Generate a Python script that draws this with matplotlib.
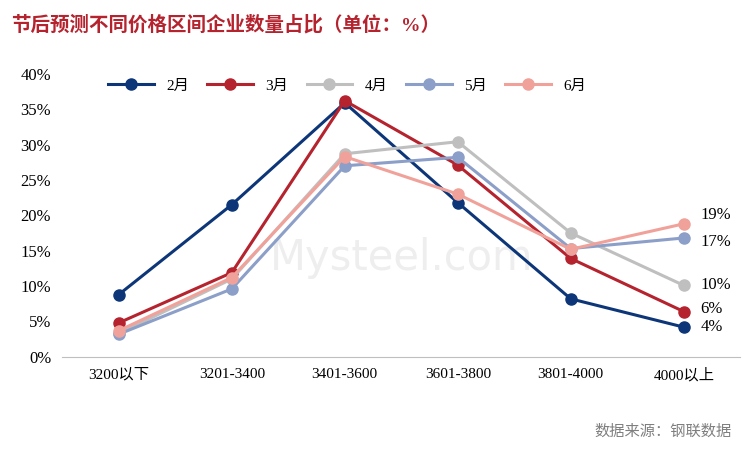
import matplotlib.pyplot as plt

plt.rcParams['font.family'] = ['Liberation Serif', 'Noto Sans CJK SC']

categories = ['3200以下', '3201-3400', '3401-3600', '3601-3800', '3801-4000', '4000以上']
months = ['2月', '3月', '4月', '5月', '6月']
feb = [8.8, 21.5, 35.9, 21.8, 8.2, 4.2]
mar = [4.8, 11.9, 36.2, 27.1, 13.9, 6.4]
apr = [3.3, 11.0, 28.7, 30.4, 17.5, 10.1]
may = [3.2, 9.6, 27.0, 28.2, 15.3, 16.8]
jun = [3.7, 11.2, 28.3, 23.0, 15.2, 18.8]
end_labels = ['4%', '6%', '10%', '17%', '19%']
label_dy = [0, 2, 0, -3, 6]
colors = ['#0d3679', '#b5232e', '#bfbfbf', '#8c9fc8', '#f0a29a']

fig = plt.figure(figsize=(7.5, 4.5), dpi=100)
ax = fig.add_axes([0.083, 0.207, 0.904, 0.629])
x = range(len(categories))
for name, vals, c in zip(months, [feb, mar, apr, may, jun], colors):
    ax.plot(x, vals, color=c, lw=2.2, marker='o', ms=8, label=name)

ends = [feb[-1], mar[-1], apr[-1], may[-1], jun[-1]]
for v, t, dy in zip(ends, end_labels, label_dy):
    ax.annotate(t, (5, v), xytext=(12, dy), textcoords='offset points',
                va='center', fontsize=12)

ax.set_ylim(0, 40)
ax.set_yticks(range(0, 41, 5))
ax.set_yticklabels([f'{v}%' for v in range(0, 41, 5)], fontsize=12)
ax.set_xlim(-0.5, 5.5)
ax.set_xticks(list(x))
ax.set_xticklabels(categories, fontsize=11)
ax.tick_params(length=0, pad=8)
for s in ['top', 'right', 'left']:
    ax.spines[s].set_visible(False)
ax.spines['bottom'].set_color('#bfbfbf')
ax.legend(loc='upper center', ncol=5, frameon=False, fontsize=11,
          bbox_to_anchor=(0.42, 1.03), handlelength=3, columnspacing=1.2)

ax.text(0.5, 0.35, 'Mysteel.com', transform=ax.transAxes, fontsize=30,
        color='#eeeeee', ha='center', va='center', family='DejaVu Sans', zorder=0)

fig.text(0.015, 0.945, '节后预测不同价格区间企业数量占比（单位：%）', fontsize=14,
         color='#b5232e', weight='bold', va='center')
fig.text(0.975, 0.04, '数据来源：钢联数据', fontsize=11, color='#7f7f7f',
         ha='right', va='center')
fig.savefig('out.png')
